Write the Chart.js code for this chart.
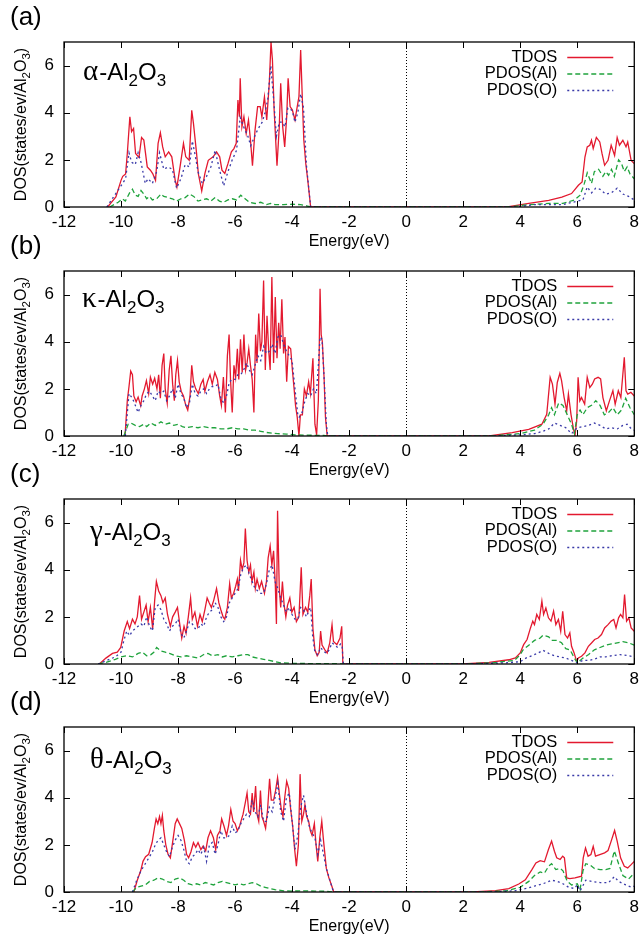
<!DOCTYPE html>
<html>
<head>
<meta charset="utf-8">
<script src="https://cdn.jsdelivr.net/npm/chart.js@4.4.1/dist/chart.umd.min.js"></script>
<style>
  html, body { margin: 0; padding: 0; background: #fff; overflow: hidden; }
  #wrap { position: relative; width: 644px; height: 942px; }
  #wrap canvas { position: absolute; left: 0; }
</style>
</head>
<body>
<div id="wrap">
  <canvas id="p0" width="644" height="260" style="top:0px"></canvas>
  <canvas id="p1" width="644" height="260" style="top:229px"></canvas>
  <canvas id="p2" width="644" height="260" style="top:457px"></canvas>
  <canvas id="p3" width="644" height="260" style="top:685px"></canvas>
</div>
<script>
// axis ticks and labels
const xTicks = [-12, -10, -8, -6, -4, -2, 0, 2, 4, 6, 8];
const yTicks = [0, 2, 4, 6];
const panelLetters = ['(a)', '(b)', '(c)', '(d)'];
const phaseGreek = ['\u03b1', '\u03ba', '\u03b3', '\u03b8'];
const seriesNames = ['TDOS', 'PDOS(Al)', 'PDOS(O)'];

// [energy (eV), DOS]
// (a) alpha-Al2O3
const alphaTDOS = [[-10.47,0],[-10.18,0.43],[-10.0,1.13],[-9.94,1.3],[-9.84,1.4],[-9.78,2.27],[-9.69,3.83],[-9.63,3.2],[-9.56,3.33],[-9.49,2.27],[-9.37,2.1],[-9.28,2.95],[-9.2,2.84],[-9.08,1.7],[-8.97,1.56],[-8.89,1.42],[-8.79,1.13],[-8.7,2.7],[-8.62,3.15],[-8.54,2.55],[-8.45,2.13],[-8.33,2.34],[-8.22,2.13],[-8.1,1.13],[-8.04,0.85],[-7.93,1.7],[-7.81,2.7],[-7.73,2.13],[-7.61,1.98],[-7.52,4.1],[-7.46,3.55],[-7.35,2.27],[-7.29,1.42],[-7.17,0.68],[-7.06,1.42],[-6.94,1.98],[-6.77,2.13],[-6.65,2.34],[-6.54,2.13],[-6.46,1.56],[-6.36,1.42],[-6.25,1.84],[-6.13,2.34],[-6.04,2.48],[-5.96,2.7],[-5.9,4.54],[-5.85,3.83],[-5.82,5.46],[-5.76,3.4],[-5.69,3.83],[-5.61,3.12],[-5.53,3.69],[-5.46,2.84],[-5.39,1.75],[-5.3,3.26],[-5.21,4.26],[-5.12,4.26],[-5.06,3.83],[-4.97,4.68],[-4.89,3.69],[-4.8,5.25],[-4.74,7.0],[-4.69,6.24],[-4.63,4.11],[-4.53,1.75],[-4.45,3.4],[-4.4,5.25],[-4.33,3.4],[-4.26,2.55],[-4.19,3.83],[-4.14,5.46],[-4.07,4.26],[-3.99,4.11],[-3.9,3.69],[-3.82,4.26],[-3.76,4.68],[-3.7,6.66],[-3.64,4.54],[-3.59,2.84],[-3.52,1.84],[-3.45,1.13],[-3.4,0.57],[-3.35,0],
  [3.55,0],[4.3,0.15],[5.0,0.28],[5.46,0.42],[5.8,0.57],[6.04,0.92],[6.17,1.06],[6.27,2.12],[6.35,2.55],[6.44,2.62],[6.5,2.83],[6.56,2.48],[6.67,2.95],[6.79,2.76],[6.87,2.26],[6.96,1.77],[7.08,1.98],[7.19,2.62],[7.31,2.19],[7.4,2.95],[7.48,2.62],[7.6,2.83],[7.71,2.55],[7.77,2.76],[7.89,1.98],[8.0,1.84]];
const alphaAl = [[-10.4,0],[-10.1,0.2],[-9.95,0.35],[-9.85,0.25],[-9.7,0.6],[-9.6,0.75],[-9.5,0.5],[-9.4,0.45],[-9.3,0.7],[-9.2,0.55],[-9.1,0.35],[-9.0,0.45],[-8.9,0.3],[-8.75,0.35],[-8.6,0.55],[-8.5,0.45],[-8.35,0.4],[-8.2,0.35],[-8.05,0.25],[-7.9,0.35],[-7.75,0.4],[-7.6,0.55],[-7.45,0.45],[-7.3,0.25],[-7.15,0.3],[-7.0,0.35],[-6.85,0.25],[-6.7,0.4],[-6.55,0.25],[-6.4,0.2],[-6.25,0.3],[-6.1,0.35],[-5.95,0.3],[-5.8,0.5],[-5.65,0.35],[-5.5,0.2],[-5.3,0.15],[-5.1,0.2],[-4.9,0.1],[-4.75,0.15],[-4.6,0.1],[-4.3,0.1],[-4.0,0.12],[-3.7,0.1],[-3.5,0.05],[-3.35,0],
  [3.6,0],[4.3,0.1],[5.0,0.15],[5.5,0.15],[5.9,0.3],[6.1,0.5],[6.25,1.0],[6.35,1.45],[6.5,1.0],[6.6,1.5],[6.75,1.6],[6.9,1.3],[7.0,1.5],[7.1,1.35],[7.2,1.6],[7.3,1.3],[7.45,2.0],[7.55,1.85],[7.65,1.5],[7.75,1.7],[7.85,1.4],[8.0,1.2]];
const alphaO = [[-10.5,0],[-10.0,0.9],[-9.84,1.2],[-9.72,2.3],[-9.63,1.9],[-9.5,1.8],[-9.4,2.3],[-9.3,1.9],[-9.15,1.0],[-9.05,1.2],[-8.9,1.0],[-8.75,1.5],[-8.65,2.3],[-8.5,1.6],[-8.35,1.7],[-8.2,1.6],[-8.05,0.8],[-7.9,1.2],[-7.75,1.8],[-7.6,1.7],[-7.5,2.8],[-7.4,2.2],[-7.3,1.5],[-7.15,1.0],[-7.0,1.3],[-6.85,1.7],[-6.7,2.4],[-6.55,1.6],[-6.4,0.9],[-6.25,1.5],[-6.1,2.0],[-5.95,2.4],[-5.82,3.8],[-5.7,3.4],[-5.55,3.0],[-5.45,2.6],[-5.35,2.9],[-5.2,3.3],[-5.05,3.6],[-4.95,4.0],[-4.85,4.6],[-4.75,6.0],[-4.65,4.6],[-4.55,3.0],[-4.45,3.6],[-4.35,3.6],[-4.25,3.4],[-4.15,4.2],[-4.0,4.1],[-3.9,3.6],[-3.8,4.0],[-3.7,4.8],[-3.6,4.2],[-3.5,1.8],[-3.4,0.6],[-3.35,0],
  [3.8,0],[4.5,0.1],[5.5,0.1],[6.0,0.25],[6.2,0.3],[6.35,0.85],[6.5,0.6],[6.65,0.8],[6.8,0.75],[7.0,0.55],[7.2,0.6],[7.4,0.8],[7.6,0.55],[7.8,0.45],[8.0,0.3]];

// (b) kappa-Al2O3
const kappaTDOS = [[-9.86,0],[-9.78,1.5],[-9.72,2.1],[-9.66,2.75],[-9.6,2.6],[-9.55,1.7],[-9.47,1.45],[-9.4,1.65],[-9.31,1.28],[-9.26,1.7],[-9.18,2.0],[-9.11,2.35],[-9.03,1.8],[-8.97,2.5],[-8.89,2.2],[-8.82,2.45],[-8.74,2.0],[-8.68,2.6],[-8.62,1.6],[-8.56,3.0],[-8.5,3.5],[-8.45,2.0],[-8.38,1.4],[-8.31,2.8],[-8.25,3.4],[-8.19,2.2],[-8.13,1.5],[-8.08,2.6],[-8.02,3.2],[-7.96,2.3],[-7.89,1.9],[-7.81,1.7],[-7.73,1.3],[-7.66,1.1],[-7.58,1.7],[-7.52,3.0],[-7.46,2.3],[-7.38,2.0],[-7.29,1.8],[-7.2,2.2],[-7.12,2.4],[-7.06,1.9],[-6.97,2.3],[-6.88,2.6],[-6.8,2.2],[-6.71,2.7],[-6.62,2.4],[-6.54,1.7],[-6.48,1.3],[-6.41,2.5],[-6.34,1.0],[-6.27,3.4],[-6.21,4.3],[-6.16,2.4],[-6.1,1.0],[-6.04,3.0],[-5.98,2.5],[-5.92,3.7],[-5.87,2.4],[-5.81,4.1],[-5.75,2.7],[-5.69,4.3],[-5.63,2.8],[-5.58,3.1],[-5.52,3.7],[-5.46,3.0],[-5.4,2.4],[-5.34,1.0],[-5.28,4.3],[-5.23,3.1],[-5.17,5.2],[-5.11,3.6],[-5.06,4.0],[-5.0,6.6],[-4.94,2.8],[-4.88,5.1],[-4.82,3.6],[-4.77,2.8],[-4.71,6.75],[-4.65,3.1],[-4.59,5.9],[-4.53,3.3],[-4.47,4.8],[-4.42,3.7],[-4.36,5.8],[-4.3,3.5],[-4.25,4.2],[-4.19,2.3],[-4.13,3.8],[-4.05,3.7],[-3.99,2.8],[-3.93,2.0],[-3.88,1.3],[-3.82,0.8],[-3.76,0],[-3.71,0.9],[-3.64,0.9],[-3.57,2.0],[-3.5,1.7],[-3.42,2.3],[-3.36,1.8],[-3.27,3.3],[-3.2,0.5],[-3.14,0.05],[-3.08,1.5],[-3.05,3.6],[-3.02,6.25],[-2.98,4.3],[-2.94,4.0],[-2.88,2.5],[-2.83,0.8],[-2.77,0],
  [2.91,0],[3.72,0.14],[4.3,0.28],[4.76,0.5],[4.93,0.92],[5.05,2.49],[5.13,2.2],[5.22,1.35],[5.3,2.27],[5.39,2.66],[5.45,2.35],[5.54,1.63],[5.63,1.07],[5.69,1.78],[5.78,0.92],[5.86,0.36],[5.92,0],[5.98,0.64],[6.03,2.49],[6.09,1.49],[6.15,1.63],[6.26,1.35],[6.35,2.49],[6.44,2.06],[6.53,2.2],[6.61,2.42],[6.73,2.49],[6.82,2.42],[6.9,1.63],[7.02,1.07],[7.13,1.49],[7.25,1.92],[7.33,1.35],[7.44,1.92],[7.53,1.63],[7.65,3.34],[7.71,1.92],[7.77,1.78],[7.88,1.85],[8.0,1.7]];
const kappaAl = [[-9.9,0],[-9.75,0.5],[-9.65,0.55],[-9.5,0.45],[-9.35,0.4],[-9.2,0.5],[-9.1,0.4],[-8.95,0.55],[-8.8,0.45],[-8.6,0.6],[-8.45,0.5],[-8.3,0.55],[-8.15,0.45],[-8.0,0.5],[-7.85,0.4],[-7.7,0.35],[-7.5,0.4],[-7.3,0.35],[-7.1,0.4],[-6.9,0.35],[-6.7,0.35],[-6.5,0.3],[-6.3,0.3],[-6.1,0.35],[-5.9,0.3],[-5.7,0.3],[-5.5,0.25],[-5.3,0.25],[-5.1,0.2],[-4.9,0.15],[-4.7,0.12],[-4.5,0.1],[-4.2,0.08],[-3.9,0.05],[-3.6,0.04],[-3.2,0.03],[-2.9,0.03],[-2.75,0],
  [3.0,0],[4.0,0.1],[4.5,0.25],[4.8,0.5],[5.0,0.9],[5.1,1.2],[5.2,0.9],[5.35,1.4],[5.5,1.3],[5.65,0.9],[5.8,0.5],[5.9,0.1],[6.0,0.9],[6.1,1.1],[6.2,0.9],[6.35,1.2],[6.5,1.3],[6.65,1.5],[6.8,1.3],[6.95,0.9],[7.1,1.0],[7.25,1.2],[7.4,0.9],[7.55,1.1],[7.7,1.6],[7.85,1.2],[8.0,0.9]];
const kappaO = [[-9.85,0],[-9.72,1.8],[-9.6,1.6],[-9.5,1.3],[-9.4,1.0],[-9.3,1.3],[-9.2,1.5],[-9.1,1.8],[-9.0,1.9],[-8.9,1.7],[-8.8,1.5],[-8.7,1.9],[-8.6,1.8],[-8.5,1.9],[-8.4,1.5],[-8.3,1.7],[-8.2,2.0],[-8.1,1.6],[-8.0,2.2],[-7.9,1.8],[-7.8,1.6],[-7.7,1.2],[-7.6,1.4],[-7.5,2.2],[-7.4,1.8],[-7.3,1.7],[-7.2,1.9],[-7.1,2.0],[-7.0,1.8],[-6.9,2.0],[-6.8,2.1],[-6.7,2.1],[-6.6,2.2],[-6.5,1.6],[-6.4,1.4],[-6.3,1.7],[-6.2,2.3],[-6.1,2.4],[-6.0,2.4],[-5.9,2.6],[-5.8,2.6],[-5.7,2.8],[-5.6,3.1],[-5.5,2.8],[-5.4,2.6],[-5.3,3.0],[-5.2,3.4],[-5.1,3.2],[-5.0,3.8],[-4.9,3.5],[-4.8,3.6],[-4.7,3.9],[-4.6,3.5],[-4.5,4.2],[-4.4,4.3],[-4.3,3.9],[-4.2,3.6],[-4.1,3.4],[-4.0,3.2],[-3.9,2.0],[-3.8,0.9],[-3.75,0.8],[-3.65,1.0],[-3.55,1.5],[-3.45,1.8],[-3.35,1.7],[-3.25,2.0],[-3.15,1.8],[-3.08,3.0],[-3.02,4.2],[-2.95,4.1],[-2.88,2.5],[-2.8,0.5],[-2.75,0],
  [3.0,0],[4.0,0.05],[4.5,0.1],[4.8,0.2],[5.0,0.3],[5.2,0.55],[5.4,0.45],[5.6,0.35],[5.8,0.1],[6.0,0.35],[6.2,0.4],[6.4,0.45],[6.6,0.55],[6.8,0.45],[7.0,0.3],[7.2,0.35],[7.4,0.3],[7.6,0.45],[7.75,0.5],[7.9,0.3],[8.0,0.25]];

// (c) gamma-Al2O3
const gammaTDOS = [[-10.76,0],[-10.53,0.25],[-10.3,0.45],[-10.13,0.5],[-10.01,0.7],[-9.89,1.4],[-9.78,1.8],[-9.7,1.5],[-9.6,1.9],[-9.51,1.7],[-9.43,2.0],[-9.35,2.9],[-9.28,1.9],[-9.2,2.2],[-9.12,2.5],[-9.05,1.8],[-8.97,2.4],[-8.89,1.5],[-8.82,2.7],[-8.76,3.5],[-8.68,3.1],[-8.6,2.9],[-8.53,2.6],[-8.45,2.8],[-8.37,2.1],[-8.27,1.6],[-8.19,2.0],[-8.1,2.2],[-8.02,2.4],[-7.93,1.6],[-7.87,1.1],[-7.79,1.6],[-7.72,1.3],[-7.64,2.0],[-7.56,2.8],[-7.5,1.9],[-7.41,2.2],[-7.32,1.6],[-7.23,2.1],[-7.15,1.8],[-7.06,2.3],[-6.98,2.8],[-6.91,2.6],[-6.83,2.4],[-6.75,2.7],[-6.65,3.2],[-6.57,2.6],[-6.5,2.3],[-6.42,2.0],[-6.36,1.9],[-6.27,2.4],[-6.19,3.4],[-6.13,2.8],[-6.05,3.0],[-5.98,3.3],[-5.92,3.6],[-5.88,3.1],[-5.81,4.4],[-5.75,4.0],[-5.69,4.3],[-5.64,5.75],[-5.58,4.4],[-5.52,3.9],[-5.46,4.2],[-5.41,3.5],[-5.34,3.9],[-5.29,3.2],[-5.23,3.6],[-5.15,3.2],[-5.07,3.5],[-4.97,3.0],[-4.9,3.5],[-4.84,4.5],[-4.77,5.0],[-4.71,4.2],[-4.65,4.8],[-4.59,3.4],[-4.55,1.7],[-4.51,6.5],[-4.45,3.2],[-4.4,2.4],[-4.34,3.5],[-4.28,2.5],[-4.22,2.0],[-4.16,2.5],[-4.08,2.8],[-4.01,2.2],[-3.93,2.4],[-3.85,1.8],[-3.76,2.0],[-3.68,4.1],[-3.62,2.1],[-3.53,2.4],[-3.45,2.2],[-3.38,2.9],[-3.33,3.6],[-3.27,1.5],[-3.2,0.6],[-3.12,0.35],[-3.05,0.5],[-3.0,1.4],[-2.95,0.8],[-2.85,0.6],[-2.77,0.47],[-2.68,0.9],[-2.6,1.67],[-2.55,0.96],[-2.43,0.82],[-2.32,1.1],[-2.26,1.6],[-2.22,0],
  [1.98,0],[2.91,0.07],[3.6,0.18],[3.83,0.26],[4.0,0.47],[4.12,0.82],[4.24,1.04],[4.36,1.53],[4.44,1.82],[4.5,1.67],[4.58,2.1],[4.67,1.89],[4.76,2.67],[4.82,2.1],[4.9,2.38],[4.99,1.96],[5.08,1.82],[5.17,2.24],[5.25,1.67],[5.34,1.89],[5.42,1.39],[5.49,2.24],[5.57,1.25],[5.66,1.1],[5.74,1.32],[5.8,0.75],[5.89,0.47],[5.98,0.11],[6.04,0.26],[6.15,0.33],[6.27,0.47],[6.39,0.75],[6.5,0.89],[6.61,1.04],[6.73,1.1],[6.85,1.25],[6.96,1.53],[7.08,1.67],[7.19,1.82],[7.28,1.89],[7.36,1.53],[7.45,1.96],[7.52,2.1],[7.6,1.96],[7.66,2.95],[7.73,1.82],[7.81,1.96],[7.89,1.53],[8.0,1.39]];
const gammaAl = [[-10.8,0],[-10.5,0.08],[-10.2,0.2],[-10.0,0.3],[-9.8,0.35],[-9.6,0.3],[-9.4,0.45],[-9.25,0.5],[-9.1,0.35],[-8.95,0.4],[-8.85,0.5],[-8.75,0.7],[-8.6,0.55],[-8.45,0.5],[-8.3,0.45],[-8.1,0.35],[-7.9,0.3],[-7.7,0.35],[-7.5,0.3],[-7.3,0.25],[-7.1,0.4],[-6.95,0.45],[-6.8,0.35],[-6.6,0.4],[-6.45,0.3],[-6.3,0.35],[-6.1,0.3],[-5.9,0.35],[-5.7,0.4],[-5.55,0.4],[-5.4,0.3],[-5.2,0.25],[-5.0,0.2],[-4.8,0.15],[-4.6,0.1],[-4.4,0.05],[-4.0,0.03],[-3.5,0.02],[-2.5,0.02],[-2.2,0],
  [2.0,0],[3.0,0.05],[3.8,0.15],[4.0,0.4],[4.1,0.6],[4.3,0.8],[4.5,1.0],[4.7,1.1],[4.8,1.22],[5.0,1.15],[5.1,1.0],[5.3,1.0],[5.45,0.9],[5.6,0.65],[5.75,0.6],[5.9,0.25],[6.0,0.05],[6.2,0.25],[6.4,0.4],[6.6,0.6],[6.8,0.7],[7.0,0.8],[7.2,0.85],[7.4,0.9],[7.6,0.95],[7.8,0.9],[8.0,0.8]];
const gammaO = [[-10.8,0],[-10.5,0.15],[-10.2,0.3],[-10.0,0.5],[-9.9,1.0],[-9.8,1.4],[-9.7,1.2],[-9.6,1.4],[-9.5,1.5],[-9.4,1.6],[-9.3,1.7],[-9.2,1.6],[-9.1,2.0],[-9.0,1.6],[-8.9,1.4],[-8.8,2.4],[-8.7,2.5],[-8.6,2.3],[-8.5,1.9],[-8.4,1.7],[-8.3,1.4],[-8.2,1.6],[-8.1,1.7],[-8.0,1.9],[-7.9,1.3],[-7.8,1.1],[-7.7,1.4],[-7.6,1.8],[-7.5,1.7],[-7.4,1.5],[-7.3,1.5],[-7.2,1.7],[-7.1,1.6],[-7.0,2.0],[-6.9,2.2],[-6.8,2.3],[-6.7,2.6],[-6.6,2.4],[-6.5,2.0],[-6.4,1.8],[-6.3,2.0],[-6.2,2.6],[-6.1,2.8],[-6.0,3.0],[-5.9,3.2],[-5.8,3.8],[-5.7,4.1],[-5.6,4.2],[-5.5,3.8],[-5.4,3.5],[-5.3,3.2],[-5.2,3.1],[-5.1,3.0],[-5.0,3.0],[-4.9,3.4],[-4.8,4.0],[-4.7,4.2],[-4.6,3.5],[-4.5,3.2],[-4.4,2.8],[-4.3,2.5],[-4.2,2.2],[-4.1,2.4],[-4.0,2.1],[-3.9,1.9],[-3.8,1.9],[-3.7,2.4],[-3.6,2.3],[-3.5,2.0],[-3.4,2.3],[-3.35,2.4],[-3.28,1.2],[-3.2,0.5],[-3.1,0.4],[-3.0,0.7],[-2.9,0.55],[-2.8,0.45],[-2.7,0.6],[-2.6,0.9],[-2.5,0.8],[-2.4,0.7],[-2.3,0.85],[-2.25,0.8],[-2.2,0],
  [2.0,0],[3.5,0.05],[4.0,0.1],[4.2,0.25],[4.4,0.35],[4.6,0.45],[4.8,0.58],[5.0,0.45],[5.2,0.35],[5.4,0.3],[5.6,0.25],[5.8,0.15],[6.0,0.05],[6.2,0.15],[6.4,0.15],[6.6,0.2],[6.8,0.3],[7.0,0.3],[7.2,0.35],[7.5,0.4],[7.8,0.35],[8.0,0.3]];

// (d) theta-Al2O3
const thetaTDOS = [[-9.55,0],[-9.43,0.5],[-9.31,0.9],[-9.23,1.3],[-9.14,1.5],[-9.03,1.6],[-8.91,2.1],[-8.83,2.7],[-8.77,3.1],[-8.71,2.9],[-8.65,3.2],[-8.6,2.9],[-8.55,3.25],[-8.5,2.6],[-8.43,2.0],[-8.35,1.6],[-8.27,1.45],[-8.18,2.2],[-8.1,2.9],[-8.03,3.1],[-7.95,2.9],[-7.87,2.7],[-7.78,2.2],[-7.7,1.6],[-7.63,1.45],[-7.55,1.7],[-7.46,2.1],[-7.38,1.9],[-7.3,2.1],[-7.2,1.8],[-7.12,1.95],[-7.03,1.75],[-6.95,2.3],[-6.86,2.6],[-6.76,2.3],[-6.68,1.8],[-6.62,2.4],[-6.53,2.6],[-6.47,3.1],[-6.39,2.8],[-6.3,2.4],[-6.23,2.8],[-6.15,3.5],[-6.07,3.0],[-6.0,2.9],[-5.92,2.6],[-5.84,2.8],[-5.77,3.1],[-5.72,3.3],[-5.64,3.8],[-5.58,4.2],[-5.52,3.4],[-5.46,3.3],[-5.4,4.2],[-5.35,3.4],[-5.28,4.5],[-5.23,3.3],[-5.17,3.0],[-5.11,4.3],[-5.06,3.2],[-5.0,3.0],[-4.93,2.7],[-4.86,3.5],[-4.79,4.8],[-4.73,3.9],[-4.65,3.9],[-4.58,4.3],[-4.51,4.85],[-4.45,4.2],[-4.39,3.6],[-4.32,3.2],[-4.26,4.0],[-4.19,4.7],[-4.12,4.4],[-4.05,3.5],[-3.98,2.8],[-3.91,1.8],[-3.85,1.1],[-3.78,2.0],[-3.72,5.0],[-3.66,3.0],[-3.6,3.3],[-3.55,3.7],[-3.49,3.2],[-3.42,3.0],[-3.36,2.6],[-3.3,2.4],[-3.22,2.9],[-3.16,2.0],[-3.1,1.3],[-3.03,2.3],[-2.96,3.0],[-2.9,2.2],[-2.8,1.0],[-2.71,0.6],[-2.62,0.3],[-2.54,0],
  [2.33,0],[3.14,0.06],[3.6,0.14],[3.95,0.34],[4.18,0.52],[4.41,0.95],[4.55,1.23],[4.7,1.33],[4.85,1.28],[4.99,1.8],[5.1,2.16],[5.2,1.73],[5.28,1.45],[5.4,1.38],[5.49,1.52],[5.55,1.45],[5.63,0.6],[5.74,0.57],[5.92,0.6],[6.15,0.67],[6.21,1.45],[6.29,1.87],[6.38,1.52],[6.48,1.59],[6.56,1.94],[6.64,1.52],[6.79,1.59],[6.96,1.66],[7.08,1.76],[7.19,2.16],[7.31,2.61],[7.4,2.16],[7.52,1.45],[7.65,1.09],[7.77,1.02],[7.89,1.16],[8.0,1.3]];
const thetaAl = [[-9.6,0],[-9.45,0.2],[-9.3,0.25],[-9.15,0.3],[-9.0,0.45],[-8.85,0.5],[-8.7,0.6],[-8.55,0.55],[-8.4,0.45],[-8.25,0.4],[-8.1,0.55],[-7.95,0.6],[-7.8,0.5],[-7.65,0.35],[-7.5,0.3],[-7.35,0.35],[-7.2,0.3],[-7.05,0.4],[-6.9,0.35],[-6.75,0.3],[-6.6,0.4],[-6.45,0.45],[-6.3,0.4],[-6.15,0.35],[-6.0,0.3],[-5.85,0.35],[-5.7,0.3],[-5.55,0.35],[-5.4,0.4],[-5.25,0.35],[-5.1,0.25],[-4.95,0.2],[-4.8,0.15],[-4.6,0.1],[-4.3,0.05],[-4.0,0.04],[-3.6,0.05],[-3.2,0.04],[-2.8,0.03],[-2.55,0],
  [2.5,0],[3.5,0.05],[4.0,0.2],[4.3,0.45],[4.5,0.7],[4.7,0.85],[4.85,0.8],[5.0,1.1],[5.1,1.2],[5.25,0.95],[5.4,1.0],[5.5,0.9],[5.65,0.45],[5.8,0.3],[6.0,0.35],[6.1,0.1],[6.2,0.9],[6.3,1.2],[6.45,1.15],[6.6,1.0],[6.8,0.95],[7.0,0.95],[7.15,1.0],[7.3,1.75],[7.45,1.2],[7.6,0.7],[7.8,0.55],[8.0,0.8]];
const thetaO = [[-9.6,0],[-9.45,0.5],[-9.3,0.9],[-9.15,1.2],[-9.0,1.5],[-8.9,1.7],[-8.8,2.0],[-8.7,2.2],[-8.6,2.3],[-8.5,2.0],[-8.4,1.7],[-8.3,1.5],[-8.2,1.9],[-8.1,2.2],[-8.0,2.4],[-7.9,2.2],[-7.8,1.8],[-7.7,1.3],[-7.6,1.2],[-7.5,1.5],[-7.4,1.6],[-7.3,1.8],[-7.2,1.6],[-7.1,1.9],[-7.0,1.3],[-6.9,2.0],[-6.8,2.1],[-6.7,1.6],[-6.6,2.0],[-6.5,2.6],[-6.4,2.3],[-6.3,2.3],[-6.2,2.4],[-6.1,2.8],[-6.0,2.5],[-5.9,2.6],[-5.8,2.9],[-5.7,3.1],[-5.6,3.3],[-5.5,3.2],[-5.4,3.9],[-5.3,3.4],[-5.2,3.2],[-5.1,3.7],[-5.0,3.0],[-4.9,3.0],[-4.8,3.6],[-4.7,3.4],[-4.6,4.0],[-4.5,4.6],[-4.4,3.4],[-4.3,3.0],[-4.2,4.0],[-4.1,4.2],[-4.0,3.0],[-3.9,1.8],[-3.8,2.4],[-3.7,3.6],[-3.6,4.1],[-3.5,3.4],[-3.4,2.8],[-3.3,2.5],[-3.2,2.3],[-3.1,1.6],[-3.0,2.2],[-2.9,1.6],[-2.8,1.0],[-2.7,0.6],[-2.6,0.2],[-2.55,0],
  [2.8,0],[3.8,0.05],[4.2,0.15],[4.5,0.25],[4.8,0.35],[5.1,0.5],[5.3,0.45],[5.5,0.35],[5.7,0.2],[5.9,0.15],[6.0,0.3],[6.1,0.05],[6.3,0.5],[6.5,0.45],[6.8,0.4],[7.1,0.4],[7.3,0.65],[7.45,0.45],[7.7,0.3],[7.9,0.2],[8.0,0.25]];

const RED = '#e3192f';
const GREEN = '#1fa33c';
const BLUE = '#3a3aa8';
const SANS = '"Liberation Sans", Arial, Helvetica, sans-serif';
const SERIF = '"Liberation Serif", "DejaVu Serif", serif';

// draw a run of text pieces, each [text, font, dy]; returns end x
function drawRich(ctx, x, y, parts) {
  parts.forEach(p => {
    ctx.font = p[1];
    ctx.fillText(p[0], x, y + p[2]);
    x += ctx.measureText(p[0]).width;
  });
  return x;
}
function richWidth(ctx, parts) {
  let w = 0;
  parts.forEach(p => { ctx.font = p[1]; w += ctx.measureText(p[0]).width; });
  return w;
}

// gnuplot-like frame, inward ticks, Fermi line, legend and labels
const panelDeco = {
  id: 'panelDeco',
  beforeDatasetsDraw(chart) {
    const {ctx, chartArea: a, scales: {x}} = chart;
    ctx.save();
    ctx.strokeStyle = '#000';
    ctx.lineWidth = 1;
    ctx.setLineDash([1, 2]);
    const x0 = Math.round(x.getPixelForValue(0)) + 0.5;
    ctx.beginPath();
    ctx.moveTo(x0, a.top);
    ctx.lineTo(x0, a.bottom);
    ctx.stroke();
    ctx.restore();
  },
  afterDatasetsDraw(chart, args, opts) {
    const {ctx, chartArea: a, scales: {x, y}} = chart;
    ctx.save();
    ctx.strokeStyle = '#000';
    ctx.lineWidth = 1.3;
    ctx.strokeRect(a.left, a.top, a.right - a.left, a.bottom - a.top);
    ctx.lineWidth = 1;
    ctx.beginPath();
    xTicks.forEach(v => {
      const px = Math.round(x.getPixelForValue(v)) + 0.5;
      ctx.moveTo(px, a.bottom); ctx.lineTo(px, a.bottom - 6);
      ctx.moveTo(px, a.top); ctx.lineTo(px, a.top + 6);
    });
    yTicks.forEach(v => {
      const py = Math.round(y.getPixelForValue(v)) + 0.5;
      ctx.moveTo(a.left, py); ctx.lineTo(a.left + 6, py);
      ctx.moveTo(a.right, py); ctx.lineTo(a.right - 6, py);
    });
    ctx.stroke();

    // legend
    const colors = [RED, GREEN, BLUE];
    const dashes = [[], [5, 3], [2, 3]];
    ctx.font = '16.5px ' + SANS;
    ctx.fillStyle = '#000';
    ctx.textAlign = 'right';
    ctx.textBaseline = 'middle';
    seriesNames.forEach((name, i) => {
      const ly = a.top + 15 + i * 16.5;
      ctx.fillText(name, a.right - 77, ly);
      ctx.strokeStyle = colors[i];
      ctx.lineWidth = 1.3;
      ctx.setLineDash(dashes[i]);
      ctx.beginPath();
      ctx.moveTo(a.right - 67, ly + 0.5);
      ctx.lineTo(a.right - 21, ly + 0.5);
      ctx.stroke();
    });
    ctx.setLineDash([]);

    // panel letter
    ctx.textAlign = 'left';
    ctx.textBaseline = 'alphabetic';
    ctx.font = '26px ' + SANS;
    ctx.fillText(opts.letter, 10, a.top - 17);

    // phase label
    const big = '24px ' + SANS, sub = '17px ' + SANS;
    let gx = drawRich(ctx, a.left + opts.gx, a.top + opts.gy, [[opts.greek, '29px ' + SERIF, 0]]);
    drawRich(ctx, gx + 1, a.top + opts.gy, [['-Al', big, 0], ['2', sub, 6], ['O', big, 0], ['3', sub, 6]]);

    // rotated y title
    const tParts = [['DOS(states/ev/Al', '16px ' + SANS, 0], ['2', '11.5px ' + SANS, 4], ['O', '16px ' + SANS, 0], ['3', '11.5px ' + SANS, 4], [')', '16px ' + SANS, 0]];
    const tw = richWidth(ctx, tParts);
    ctx.translate(26, (a.top + a.bottom) / 2);
    ctx.rotate(-Math.PI / 2);
    drawRich(ctx, -tw / 2, 0, tParts);
    ctx.restore();
  }
};

function toXY(pts) {
  return pts.map(p => ({x: p[0], y: p[1]}));
}

function makePanel(id, k, tdos, al, o, gx, gy) {
  return new Chart(document.getElementById(id), {
    type: 'line',
    data: {
      datasets: [
        {label: seriesNames[0], data: toXY(tdos), borderColor: RED, borderWidth: 1.3, order: 3},
        {label: seriesNames[1], data: toXY(al), borderColor: GREEN, borderWidth: 1.3, borderDash: [5, 3], order: 2},
        {label: seriesNames[2], data: toXY(o), borderColor: BLUE, borderWidth: 1.3, borderDash: [2, 3], order: 1}
      ]
    },
    options: {
      responsive: false,
      animation: false,
      devicePixelRatio: 1,
      layout: {padding: {top: 42, right: 4, left: 0, bottom: 0}},
      elements: {point: {radius: 0}, line: {tension: 0, fill: false}},
      scales: {
        x: {
          type: 'linear', min: -12, max: 8,
          afterBuildTicks: s => { s.ticks = xTicks.map(v => ({value: v})); },
          afterFit: s => { s.height = 53; },
          grid: {display: false, drawTicks: false},
          border: {display: false},
          ticks: {padding: 5, autoSkip: false, maxRotation: 0, color: '#000',
                  font: {family: SANS, size: 17}, callback: v => String(v)},
          title: {display: true, text: 'Energy(eV)', color: '#000',
                  font: {family: SANS, size: 16}, padding: {top: 0, bottom: 9}}
        },
        y: {
          min: 0, max: 7,
          afterBuildTicks: s => { s.ticks = yTicks.map(v => ({value: v})); },
          afterFit: s => { s.width = 64; },
          grid: {display: false, drawTicks: false},
          border: {display: false},
          ticks: {padding: 10, color: '#000', font: {family: SANS, size: 17}, callback: v => String(v)}
        }
      },
      plugins: {
        legend: {display: false},
        tooltip: {enabled: false},
        panelDeco: {letter: panelLetters[k], greek: phaseGreek[k], gx: gx, gy: gy}
      }
    },
    plugins: [panelDeco]
  });
}

makePanel('p0', 0, alphaTDOS, alphaAl, alphaO, 19, 38);
makePanel('p1', 1, kappaTDOS, kappaAl, kappaO, 18, 36);
makePanel('p2', 2, gammaTDOS, gammaAl, gammaO, 26, 41);
makePanel('p3', 3, thetaTDOS, thetaAl, thetaO, 26, 41);
</script>
</body>
</html>
